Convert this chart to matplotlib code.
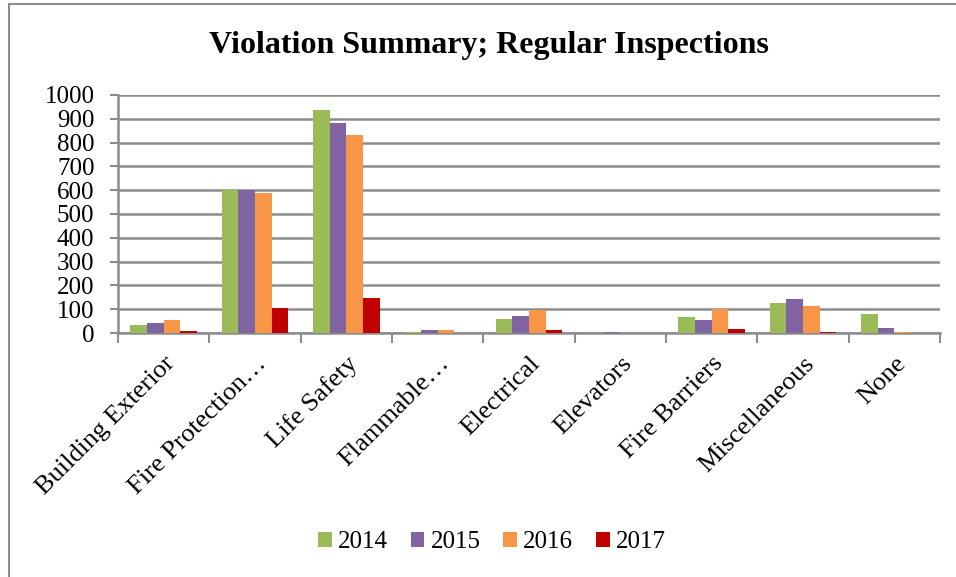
import matplotlib
matplotlib.use("Agg")
import matplotlib.pyplot as plt
import numpy as np
from matplotlib.patches import Rectangle

categories = ["Building Exterior", "Fire Protection\u2026", "Life Safety", "Flammable\u2026",
              "Electrical", "Elevators", "Fire Barriers", "Miscellaneous", "None"]
years = ["2014", "2015", "2016", "2017"]
v2014 = [34, 600, 939, 5, 60, 0, 67, 125, 81]
v2015 = [40, 601, 882, 11, 72, 3, 53, 142, 21]
v2016 = [56, 589, 834, 14, 98, 0, 100, 115, 3]
v2017 = [10, 104, 149, 0, 12, 0, 18, 5, 0]
series = [v2014, v2015, v2016, v2017]
colors = ["#9BBB59", "#8064A2", "#F79646", "#C00000"]
yticks = [0, 100, 200, 300, 400, 500, 600, 700, 800, 900, 1000]

plt.rcParams['font.family'] = ['Liberation Serif', 'DejaVu Serif']

W, H = 956, 577
fig = plt.figure(figsize=(W / 100, H / 100), dpi=100)
fig.patches.append(Rectangle((9 / W, -0.5), 2, 1.5 - 4 / H, transform=fig.transFigure,
                             fill=False, edgecolor="#8c8c8c", linewidth=1.5))

ax = fig.add_axes([118 / W, 1 - 333 / H, (940 - 118) / W, (333 - 95) / H])
n = len(categories)
x = np.arange(n)
w = 1 / 5.5
for i, (vals, c, yr) in enumerate(zip(series, colors, years)):
    ax.bar(x + (i - 1.5) * w, vals, width=w, color=c, label=yr, zorder=3)

ax.set_xlim(-0.5, n - 0.5)
ax.set_ylim(0, 1000)
ax.set_yticks(yticks)
ax.set_yticklabels([str(t) for t in yticks], fontsize=18)
ax.yaxis.grid(True, color="#8c8c8c", linewidth=1.8, zorder=0)
ax.set_axisbelow(True)
ax.tick_params(axis="y", length=6, width=1.5, color="#8c8c8c", pad=11)

ax.set_xticks(np.arange(n + 1) - 0.5)
ax.set_xticklabels([])
ax.set_xticks(x, minor=True)
ax.set_xticklabels(categories, minor=True, rotation=45, ha="right", va="top",
                   rotation_mode="anchor", fontsize=19)
ax.tick_params(axis="x", which="major", length=7, width=1.5, color="#8c8c8c")
ax.tick_params(axis="x", which="minor", length=0, pad=14)

for s in ["top", "right"]:
    ax.spines[s].set_visible(False)
for s in ["left", "bottom"]:
    ax.spines[s].set_color("#8c8c8c")
    ax.spines[s].set_linewidth(1.8)

fig.text(489 / W, 1 - 45 / H, "Violation Summary; Regular Inspections",
         ha="center", va="center", fontsize=23, fontweight="bold")

fig.legend(loc="center", bbox_to_anchor=(492 / W, 1 - 542 / H), ncol=4, frameon=False,
           fontsize=18, handlelength=0.55, handleheight=0.55, handletextpad=0.25,
           columnspacing=0.9)

fig.savefig("out.png", dpi=100)
